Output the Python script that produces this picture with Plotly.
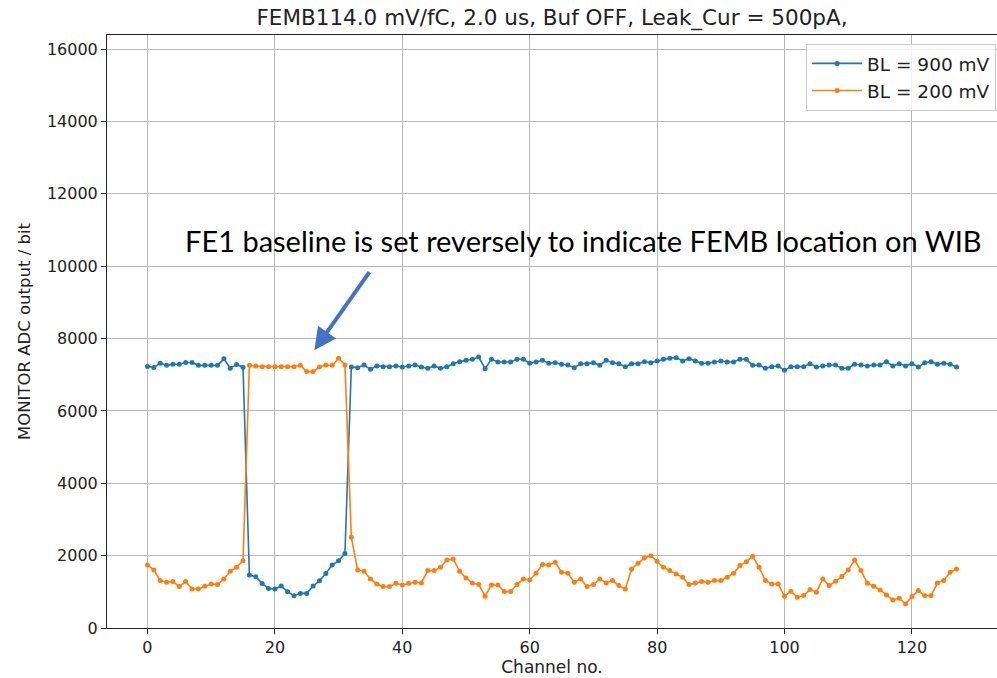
import plotly.graph_objects as go

channels = list(range(128))

bl_900 = [
    7230, 7200, 7320, 7260, 7290, 7290, 7340, 7340, 7260, 7260, 7260, 7260, 7440, 7180, 7280, 7210,
    1463, 1417, 1233, 1095, 1076, 1159, 1002, 892, 957, 957, 1159, 1306, 1509, 1739, 1858, 2061,
    7214, 7196, 7270, 7150, 7242, 7224, 7224, 7242, 7214, 7242, 7270, 7214, 7178, 7242, 7178, 7224,
    7306, 7362, 7398, 7426, 7490, 7168, 7426, 7352, 7352, 7352, 7426, 7426, 7316, 7352, 7398, 7316,
    7334, 7288, 7270, 7196, 7306, 7306, 7334, 7260, 7398, 7334, 7306, 7224, 7306, 7306, 7362, 7334,
    7380, 7426, 7454, 7472, 7380, 7444, 7380, 7316, 7316, 7352, 7380, 7352, 7352, 7426, 7426, 7260,
    7270, 7178, 7224, 7242, 7122, 7224, 7224, 7224, 7306, 7214, 7242, 7270, 7270, 7178, 7178, 7288,
    7270, 7242, 7270, 7270, 7362, 7242, 7306, 7242, 7306, 7214, 7334, 7362, 7288, 7316, 7288, 7214,
]

bl_200 = [
    1742, 1604, 1310, 1264, 1282, 1144, 1282, 1080, 1080, 1154, 1218, 1200, 1356, 1568, 1678, 1862,
    7260, 7242, 7224, 7224, 7224, 7224, 7224, 7224, 7260, 7086, 7086, 7214, 7270, 7260, 7454, 7270,
    2506, 1604, 1568, 1356, 1218, 1144, 1144, 1236, 1190, 1236, 1264, 1246, 1586, 1586, 1678, 1880,
    1908, 1568, 1384, 1246, 1200, 878, 1190, 1190, 1006, 1006, 1200, 1356, 1328, 1512, 1752, 1742,
    1816, 1540, 1512, 1264, 1356, 1144, 1200, 1356, 1246, 1310, 1172, 1080, 1632, 1788, 1936, 2000,
    1844, 1678, 1586, 1494, 1402, 1200, 1246, 1282, 1264, 1310, 1310, 1402, 1512, 1724, 1834, 1982,
    1678, 1310, 1218, 1218, 878, 1016, 850, 896, 1062, 988, 1356, 1172, 1292, 1420, 1604, 1880,
    1586, 1236, 1154, 1052, 914, 776, 822, 666, 868, 1034, 896, 896, 1246, 1310, 1540, 1632,
]

series_names = ["BL = 900 mV", "BL = 200 mV"]
series_colors = ["#1f77b4", "#ff7f0e"]

x_ticks = [0, 20, 40, 60, 80, 100, 120]
y_ticks = list(range(0, 16001, 2000))
y_tick_labels = [str(v) for v in y_ticks]

title_text = "FEMB114.0 mV/fC, 2.0 us, Buf OFF, Leak_Cur = 500pA,"
note_text = "FE1 baseline is set reversely to indicate FEMB location on WIB"

fig = go.Figure()
for name, vals, col in zip(series_names, [bl_900, bl_200], series_colors):
    fig.add_trace(go.Scatter(
        x=channels, y=vals, mode="lines+markers", name=name,
        line=dict(color=col, width=1.6),
        marker=dict(color=col, size=5),
    ))

font_main = "DejaVu Sans"

fig.update_layout(
    width=997, height=678,
    margin=dict(l=107, r=0, t=35, b=50),
    paper_bgcolor="white", plot_bgcolor="white",
    font=dict(family=font_main, size=16, color="#222"),
    title=dict(text=title_text, x=(107 + 997) / 2 / 997, xanchor="center",
               y=1 - 17 / 678, yanchor="middle",
               font=dict(family=font_main, size=21.5, color="#222")),
    showlegend=True,
    legend=dict(x=0.999, xanchor="right", y=0.985, yanchor="top",
                bgcolor="rgba(255,255,255,0.8)", bordercolor="#cccccc", borderwidth=1,
                itemwidth=50,
                font=dict(family=font_main, size=18.5, color="#222")),
)

fig.update_xaxes(
    range=[-6.35, 133.35], tickmode="array", tickvals=x_ticks,
    showgrid=True, gridcolor="#b8b8b8", gridwidth=1,
    showline=True, linecolor="#222", linewidth=1, mirror=True,
    ticks="outside", ticklen=5, tickcolor="#222", zeroline=False,
    tickfont=dict(size=16),
    title=dict(text="Channel no.", font=dict(size=17), standoff=2),
)
fig.update_yaxes(
    range=[0, 16390], tickmode="array", tickvals=y_ticks, ticktext=y_tick_labels,
    showgrid=True, gridcolor="#b8b8b8", gridwidth=1,
    showline=True, linecolor="#222", linewidth=1, mirror=True,
    ticks="outside", ticklen=5, tickcolor="#222", zeroline=False,
    tickfont=dict(size=16),
    title=dict(text="MONITOR ADC output / bit", font=dict(size=16.5), standoff=12),
)

fig.add_annotation(
    text=note_text, xref="paper", yref="paper",
    x=(183 - 107) / 890, xanchor="left", y=(628 - 240) / 593, yanchor="middle",
    showarrow=False, font=dict(family="Lato", size=29, color="black"),
)
fig.add_annotation(
    x=26.2, y=7680, xref="x", yref="y",
    ax=35.0, ay=9880, axref="x", ayref="y",
    showarrow=True, arrowhead=2, arrowsize=1.1, arrowwidth=4, arrowcolor="#4472C4",
    text="",
)

fig.write_html("out.html")
